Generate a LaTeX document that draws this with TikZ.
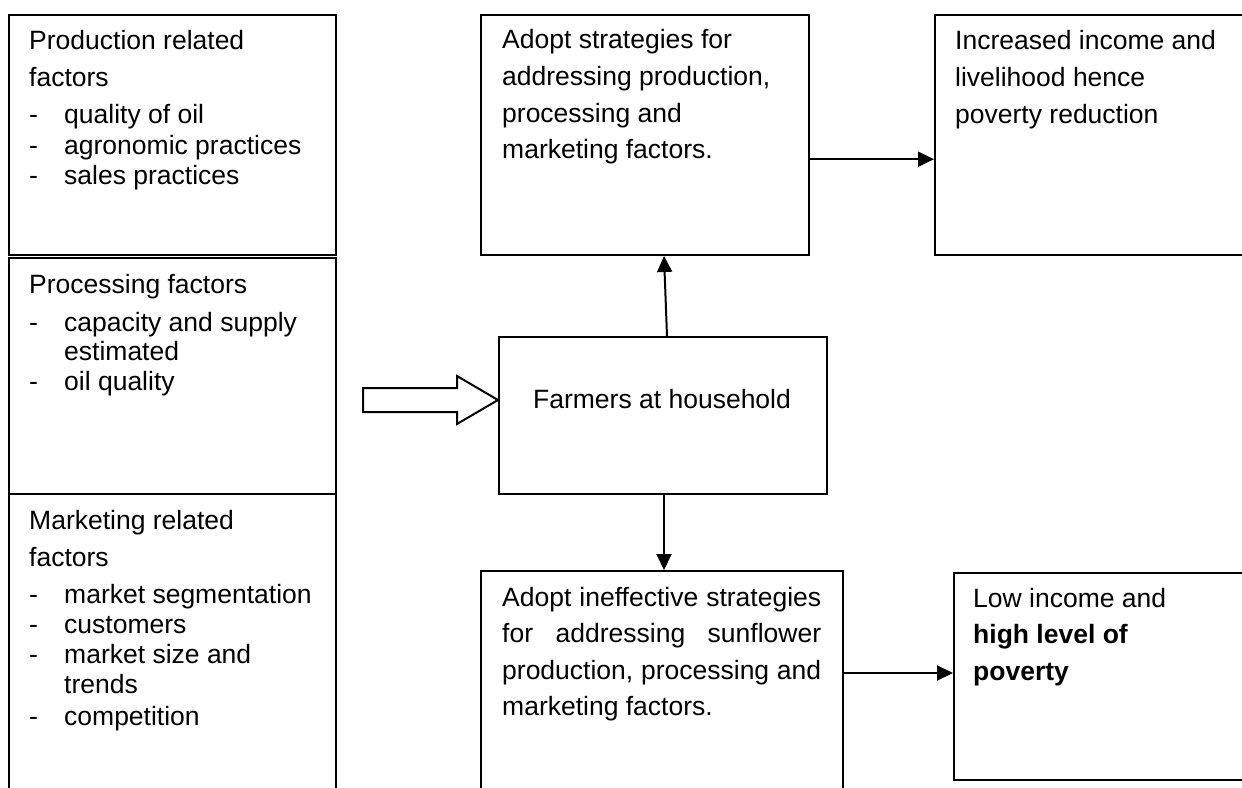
\documentclass[tikz,border=0pt]{standalone}
\usepackage{fontspec}
\setmainfont{Liberation Sans}
\usetikzlibrary{arrows.meta,calc}
\begin{document}
\begin{tikzpicture}[x=1pt,y=-1pt,
  box/.style={draw=black,line width=2pt,rectangle,anchor=north west,inner sep=0pt},
  txt/.style={anchor=base west,inner sep=0pt,font=\fontsize{26.5}{37}\selectfont},
  arr/.style={draw=black,line width=2pt,-{Triangle[length=16pt,width=15pt]}},
  hollow/.style={draw=black,line width=2pt,fill=white,line join=miter}]
\useasboundingbox[fill=white] (0,0) rectangle (1242,787);

% boxes
\node[box,minimum width=327pt,minimum height=240pt] (prod) at (8,14) {};
\node[box,minimum width=327pt,minimum height=236pt] (proc) at (8,257) {};
\node[box,minimum width=327pt,minimum height=330pt] (mark) at (8,493) {};
\node[box,minimum width=328pt,minimum height=240pt] (adopt) at (480,14) {};
\node[box,minimum width=330pt,minimum height=240pt] (inc) at (934,14) {};
\node[box,minimum width=328pt,minimum height=157pt] (farm) at (498,336) {};
\node[box,minimum width=362pt,minimum height=260pt] (inef) at (480,570) {};
\node[box,minimum width=330pt,minimum height=207pt] (low) at (953,572) {};

% production text
\node[txt] (p1) at (29,49) {Production related};
\node[txt] (p2) at (29,86) {factors};
\node[txt] (p3d) at (29,123) {-};
\node[txt] (p3) at (64,123) {quality of oil};
\node[txt] (p4d) at (29,154) {-};
\node[txt] (p4) at (64,154) {agronomic practices};
\node[txt] (p5d) at (29,184) {-};
\node[txt] (p5) at (64,184) {sales practices};

% processing text
\node[txt] (q1) at (29,293) {Processing factors};
\node[txt] (q2d) at (29,331) {-};
\node[txt] (q2) at (64,331) {capacity and supply};
\node[txt] (q3) at (64,360) {estimated};
\node[txt] (q4d) at (29,390) {-};
\node[txt] (q4) at (64,390) {oil quality};

% marketing text
\node[txt] (m1) at (29,529) {Marketing related};
\node[txt] (m2) at (29,566) {factors};
\node[txt] (m3d) at (29,603) {-};
\node[txt] (m3) at (64,603) {market segmentation};
\node[txt] (m4d) at (29,633) {-};
\node[txt] (m4) at (64,633) {customers};
\node[txt] (m5d) at (29,663) {-};
\node[txt] (m5) at (64,663) {market size and};
\node[txt] (m6) at (64,693) {trends};
\node[txt] (m7d) at (29,725) {-};
\node[txt] (m7) at (64,725) {competition};

% adopt text
\node[txt] (a1) at (502,48) {Adopt strategies for};
\node[txt] (a2) at (502,85) {addressing production,};
\node[txt] (a3) at (502,122) {processing and};
\node[txt] (a4) at (502,158) {marketing factors.};

% increased text
\node[txt] (i1) at (955,49) {Increased income and};
\node[txt] (i2) at (955,86) {livelihood hence};
\node[txt] (i3) at (955,123) {poverty reduction};

% farmers text
\node[txt,anchor=base] (f1) at (662,408) {Farmers at household};

% ineffective text
\node[txt] (e1) at (502,606) {\makebox[319pt][s]{Adopt ineffective strategies}};
\node[txt] (e2) at (502,642) {\makebox[319pt][s]{for addressing sunflower}};
\node[txt] (e3) at (502,679) {\makebox[319pt][s]{production, processing and}};
\node[txt] (e4) at (502,715) {marketing factors.};

% low text
\node[txt] (l1) at (973,607) {Low income and};
\node[txt] (l2) at (973,643) {\textbf{high level of}};
\node[txt] (l3) at (973,680) {\textbf{poverty}};

% hollow block arrow into farmers
\coordinate (tip) at ($(farm.north west)+(0,64)$);
\draw[hollow] ($(tip)+(-135,-12)$) -- ($(tip)+(-41,-12)$) -- ($(tip)+(-41,-24)$)
  -- (tip) -- ($(tip)+(-41,24)$) -- ($(tip)+(-41,12)$) -- ($(tip)+(-135,12)$) -- cycle;

% connectors
\draw[arr] ($(farm.north)+(4,0)$) -- ($(adopt.south)+(19,0)$);
\draw[arr] ($(adopt.north east)!0.6!(adopt.south east)$) -- ($(inc.north west)!0.6!(inc.south west)$);
\draw[arr] ($(farm.south)+(1,0)$) -- ($(inef.north)+(2,0)$);
\coordinate (b1) at ($(inef.north east)+(0,103)$);
\draw[arr] (b1) -- (b1 -| low.west);
\end{tikzpicture}
\end{document}
